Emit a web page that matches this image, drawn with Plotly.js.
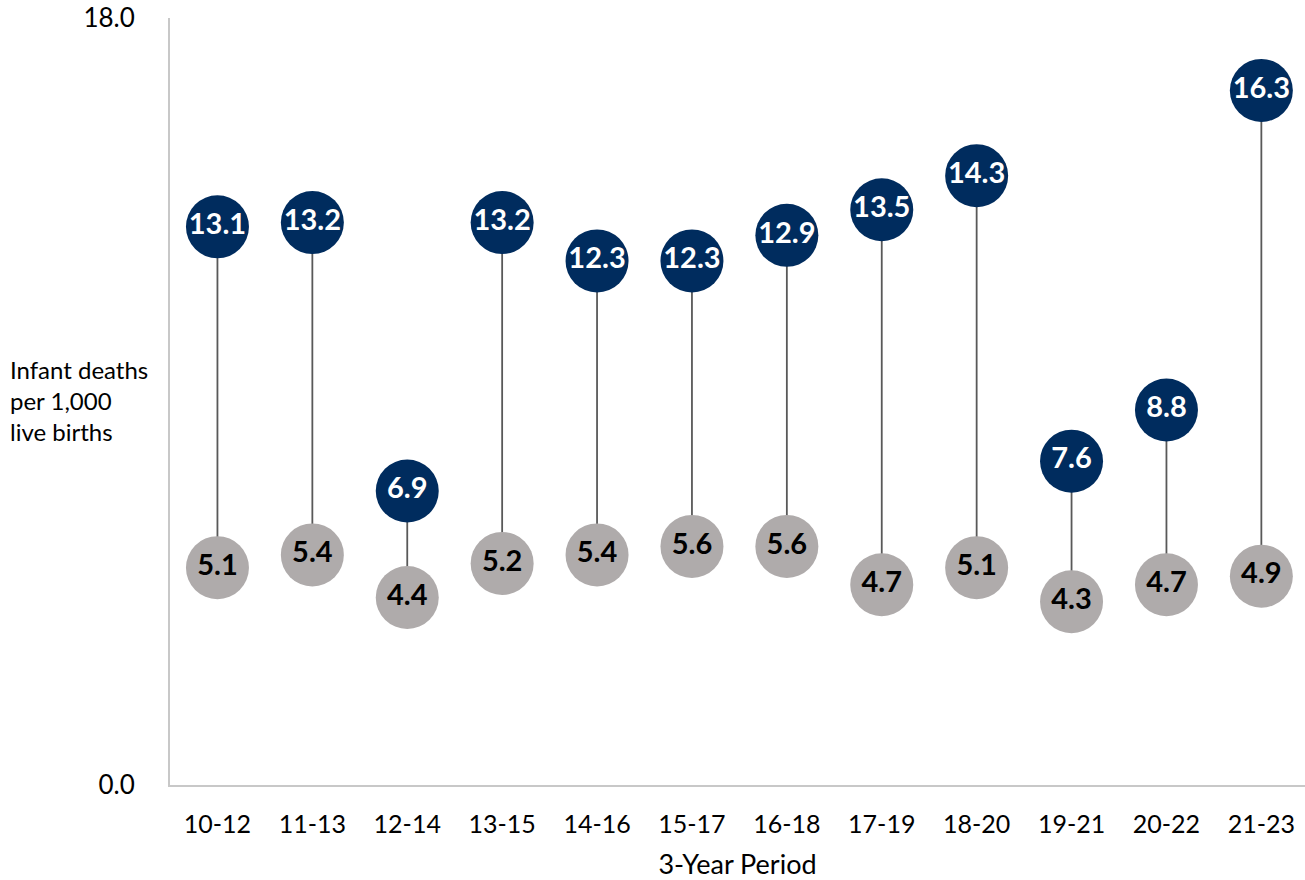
<!DOCTYPE html>
<html>
<head>
<meta charset="utf-8">
<script src="https://cdn.plot.ly/plotly-3.0.1.min.js"></script>
<style>html,body{margin:0;padding:0;background:#fff;}#chart{width:1305px;height:880px;}</style>
</head>
<body>
<div id="chart"></div>
<script>
const periods = ["10-12","11-13","12-14","13-15","14-16","15-17","16-18","17-19","18-20","19-21","20-22","21-23"];
const highSeries = [13.1, 13.2, 6.9, 13.2, 12.3, 12.3, 12.9, 13.5, 14.3, 7.6, 8.8, 16.3];
const lowSeries = [5.1, 5.4, 4.4, 5.2, 5.4, 5.6, 5.6, 4.7, 5.1, 4.3, 4.7, 4.9];
const yTickVals = [0, 18];
const yTickText = ["0.0", "18.0"];

const FONT = "Lato, 'Open Sans', sans-serif";

const stemX = [], stemY = [];
periods.forEach((p, i) => {
  stemX.push(p, p, null);
  stemY.push(lowSeries[i], highSeries[i], null);
});

const fmt = v => v.toFixed(1);

const traces = [
  {
    x: stemX, y: stemY, type: "scatter", mode: "lines",
    line: {color: "#595959", width: 1.8},
    hoverinfo: "skip", showlegend: false, connectgaps: false
  },
  {
    x: periods, y: lowSeries, type: "scatter", mode: "markers+text",
    marker: {size: 63, color: "#afabab", line: {width: 0}},
    text: lowSeries.map(fmt), textposition: "middle center",
    textfont: {family: FONT, size: 29, color: "#000000", weight: "bold"},
    cliponaxis: false, showlegend: false
  },
  {
    x: periods, y: highSeries, type: "scatter", mode: "markers+text",
    marker: {size: 63, color: "#002c5e", line: {width: 0}},
    text: highSeries.map(fmt), textposition: "middle center",
    textfont: {family: FONT, size: 29, color: "#ffffff", weight: "bold"},
    cliponaxis: false, showlegend: false
  }
];

const layout = {
  width: 1305, height: 880,
  margin: {l: 170, r: 0, t: 18, b: 95},
  paper_bgcolor: "#ffffff", plot_bgcolor: "#ffffff",
  font: {family: FONT, color: "#000000"},
  showlegend: false,
  xaxis: {
    type: "category", range: [-0.5, 11.46],
    showgrid: false, zeroline: false,
    showline: true, linecolor: "#c8c8c8", linewidth: 2,
    ticks: "", ticklabelstandoff: 16,
    tickfont: {family: FONT, size: 25, color: "#000000"},
    title: {text: "3-Year Period", font: {family: FONT, size: 27, color: "#000000"}, standoff: 38}
  },
  yaxis: {
    range: [0, 18], tickvals: yTickVals, ticktext: yTickText,
    showgrid: false, zeroline: false,
    showline: true, linecolor: "#c8c8c8", linewidth: 2,
    ticks: "", ticklabelstandoff: 28, ticklabeloverflow: "allow",
    tickfont: {family: FONT, size: 26, color: "#000000"}
  },
  annotations: [{
    xref: "paper", yref: "paper",
    x: (8 - 170) / 1135, y: (785 - 401) / 767,
    xanchor: "left", yanchor: "middle", align: "left",
    showarrow: false,
    text: "Infant deaths<br>per 1,000<br>live births",
    font: {family: FONT, size: 24, color: "#000000"}
  }]
};

Plotly.newPlot("chart", traces, layout, {displayModeBar: false, staticPlot: true});
</script>
</body>
</html>
